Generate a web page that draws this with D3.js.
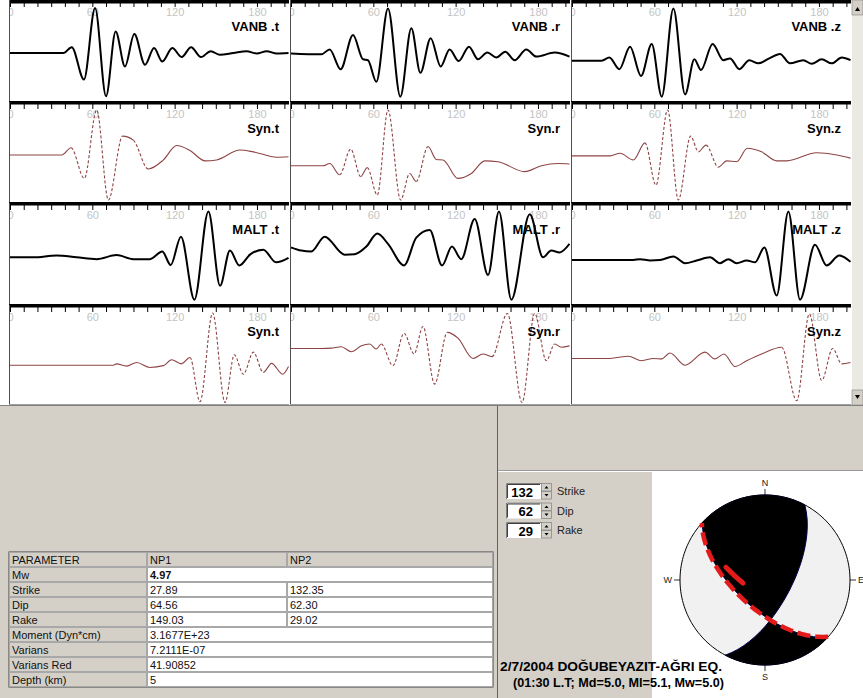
<!DOCTYPE html>
<html>
<head>
<meta charset="utf-8">
<title>Moment tensor inversion - 2/7/2004 Doğubeyazıt</title>
<style>
  body { margin: 0; background: #d4d0c8; }
  svg { display: block; font-family: "Liberation Sans", Arial, sans-serif; }
  .tick line { stroke: #000; }
  .lbl text { fill: #c4c4c4; font-size: 11px; }
  .cell { font-size: 11px; fill: #111; }
</style>
</head>
<body>
<svg id="chart" width="863" height="698"></svg>
<script src="https://d3js.org/d3.v7.min.js"></script>
<script>
// ---------- data (time in s, amplitude normalised to panel) ----------
const stations = ['VANB', 'MALT'];
const components = ['t', 'r', 'z'];
const timeLabels = [0, 60, 120, 180];

const vanbT = [[0,0],[38.9,0],[45,0.13],[53.9,-0.59],[62,1.0],[70,-0.96],[77,0.48],[83.8,-0.30],[90.6,0.42],[98.4,-0.26],[105,0.11],[111,-0.19],[118.3,0.11],[125.1,-0.09],[132,0.13],[139.2,-0.09],[146.3,0.04],[153,-0.04],[162.8,0],[172.5,0.04],[179.8,-0.01],[187.1,0.04],[194.4,-0.01],[203,0]];
const vanbR = [[0,-0.01],[22.1,-0.03],[28.2,0.08],[36.2,-0.36],[45.2,0.40],[52.5,-0.14],[56.1,-0.16],[62.2,-0.64],[70.7,0.99],[79.7,-0.97],[87.7,0.55],[94.3,-0.44],[101.8,0.33],[109.1,-0.30],[115.6,0.08],[122.2,-0.18],[129.7,0.14],[136.3,-0.14],[143.1,0.01],[149.7,-0.10],[156.2,0.03],[163,-0.16],[171.5,0.08],[178.8,-0.08],[192.2,0.01],[203,-0.08]];
const vanbZ = [[0,-0.17],[21.6,-0.17],[27.2,-0.10],[34.5,-0.36],[42.3,0.14],[50.3,-0.51],[58.1,0.20],[65.4,-0.97],[73.9,0.99],[82.4,-0.92],[89.2,-0.14],[94,-0.38],[102.5,0.20],[110.3,-0.16],[115.2,-0.12],[122,-0.36],[129.2,-0.16],[135.8,-0.23],[143.8,-0.12],[151.6,-0.02],[158.9,-0.23],[168.6,-0.16],[174.7,-0.24],[182,-0.14],[189.3,-0.23],[196.6,-0.10],[203,-0.16]];

const synVanbT = [[0,0],[37.7,0],[44.5,0.16],[54.2,-0.52],[63.2,1.0],[71.7,-1.0],[82.1,0.42],[89.9,0.33],[100.8,-0.31],[111.8,-0.11],[121.5,0.21],[131.2,0.10],[142.1,-0.13],[150.6,-0.11],[167.6,0.11],[177.4,0.07],[194.4,-0.05],[203,-0.04]];
const synVanbR = [[0,-0.24],[23.3,-0.24],[28.2,-0.19],[35.5,-0.44],[43.5,0.13],[50.8,-0.48],[55.6,-0.28],[62.9,-0.89],[70.7,1.0],[79.9,-1.0],[86.5,-0.41],[91.3,-0.59],[99.9,0.19],[105.9,-0.10],[110.8,-0.11],[121.7,-0.52],[131.4,-0.41],[141.2,-0.13],[150.9,-0.15],[170.3,-0.37],[182.5,-0.24],[194.6,-0.19],[203,-0.20]];
const synVanbZ = [[0,-0.02],[27.7,-0.02],[35,0.04],[44.7,-0.11],[53.2,0.27],[61.2,-0.67],[69.7,1.0],[77.5,-1.0],[86.5,0.42],[92.1,0.07],[97.7,0.22],[106.7,-0.27],[112.7,-0.13],[120,-0.15],[127.8,0.15],[138.2,0.07],[149.2,-0.13],[156.5,-0.13],[178.3,0.05],[192.9,0],[203,-0.07]];

const maltT = [[0,-0.03],[17,-0.03],[34,0.01],[48.6,-0.03],[63.2,-0.07],[77.7,0.02],[89.9,-0.07],[102,-0.07],[111,0.10],[117.1,-0.20],[124.6,0.43],[134.4,-0.97],[144.6,0.99],[153.1,-0.66],[160.3,0.12],[167.2,-0.21],[174.9,0.03],[184.6,0.14],[193.9,-0.14],[203,-0.04]];
const maltR = [[0,0.19],[7.5,0.12],[14.8,0.10],[24.5,0.43],[39.1,0.03],[46.4,0.04],[54.9,0.21],[62.9,0.50],[70.7,0.27],[82.4,-0.21],[91.3,0.41],[101.1,0.58],[110.1,-0.21],[117.3,0.21],[124.1,-0.07],[133.9,0.82],[143.6,-0.42],[151.6,0.99],[160.6,-0.97],[174,0.93],[183.7,-0.03],[189.7,0.12],[195.8,0.08],[203,0.27]];
const maltZ = [[0,-0.09],[44.7,-0.09],[49.6,-0.07],[56.9,-0.10],[64.1,-0.09],[73.9,-0.01],[82.4,-0.16],[90.9,-0.10],[100.6,-0.03],[107.9,-0.16],[113.9,-0.07],[120,-0.16],[127.3,-0.10],[133.4,-0.14],[140.2,0.19],[149.2,-0.88],[157.7,0.99],[166.2,-0.97],[177.1,0.25],[185.6,-0.21],[194.8,0.01],[203,-0.13]];

const synMaltT = [[0,-0.16],[75.3,-0.16],[77.7,-0.13],[85,-0.18],[92.3,-0.10],[102,-0.21],[111.8,-0.17],[117.8,-0.04],[124.9,-0.13],[131.2,0.01],[138.5,-0.97],[147.7,1.0],[156.7,-0.99],[163.5,0.07],[170.1,-0.36],[177.4,0.13],[184.6,-0.32],[190.7,-0.12],[198.7,-0.36],[203,-0.19]];
const synMaltR = [[0,0.21],[22.1,0.21],[29.4,0.22],[36.7,0.25],[44,0.14],[51.3,0.27],[57.3,0.31],[62.2,0.20],[65.8,0.31],[74.3,-0.17],[82.4,0.55],[89.7,0.09],[96.2,0.70],[104.7,-0.58],[113.9,0.57],[121.7,0.44],[132.7,-0.01],[139.9,0.09],[146.5,0.03],[157.7,0.99],[168.4,-0.99],[177.6,0.99],[186.1,-0.06],[192.2,0.31],[197,0.24],[203,0.27]];
const synMaltZ = [[0,-0.01],[27.7,-0.01],[41.1,0.04],[50.8,-0.06],[59.3,-0.01],[65.4,-0.02],[71.4,0.11],[82.4,-0.16],[96.9,0.13],[104.2,-0.02],[110.8,0.09],[118.8,-0.19],[127.3,-0.06],[138.2,0.09],[152.8,0.24],[163.8,-0.95],[173,0.98],[182,-0.50],[190,0.21],[196.6,-0.13],[203,-0.10]];

// rows of the trace grid: observed / synthetic pairs per station
const traceRows = [
  [vanbT, vanbR, vanbZ],
  [synVanbT, synVanbR, synVanbZ],
  [maltT, maltR, maltZ],
  [synMaltT, synMaltR, synMaltZ]
];

// result table
const tableHeader = ['PARAMETER', 'NP1', 'NP2'];
const paramNames = ['Mw', 'Strike', 'Dip', 'Rake', 'Moment (Dyn*cm)', 'Varians', 'Varians Red', 'Depth (km)'];
const np1Values = ['4.97', '27.89', '64.56', '149.03', '3.1677E+23', '7.2111E-07', '41.90852', '5'];
const np2Values = [null, '132.35', '62.30', '29.02', null, null, null, null];

// spin boxes (user plane) and focal mechanism
const spinLabels = ['Strike', 'Dip', 'Rake'];
const spinValues = [132, 62, 29];
const nodalPlane1 = [27.89, 64.56, 149.03];
const nodalPlane2 = [132.35, 62.30, 29.02];
const slipArrow = [[288, 50], [262, 68.7]]; // [azimuth, plunge]
const directions = ['N', 'E', 'S', 'W'];

const titleLines = ['2/7/2004 DOĞUBEYAZIT-AĞRI EQ.', '(01:30 L.T; Md=5.0, Ml=5.1, Mw=5.0)'];

// ---------- layout ----------
const svg = d3.select('#chart');
const colX = [9, 290, 571];
const rowY = [0, 102, 203, 305];
const gridBottom = 405;
const panelW = 280;

svg.append('rect').attr('x', 0).attr('y', 0).attr('width', 852).attr('height', gridBottom).attr('fill', '#fff');

const defs = svg.append('defs');

function drawTrace(g, data, x, y, synthetic) {
  const line = d3.line().x(d => x(d[0])).y(d => y(d[1])).curve(d3.curveMonotoneX);
  const d = line(data);
  if (!synthetic) {
    g.append('path').attr('d', d).attr('fill', 'none')
      .attr('stroke', '#000').attr('stroke-width', 2).attr('stroke-linejoin', 'round');
    return;
  }
  // one cubic per data interval: steep intervals are drawn dashed
  const cmds = d.match(/[MLC][^MLC]*/g);
  const endPt = c => { const n = c.slice(1).split(','); return n.slice(-2).join(','); };
  let runs = [];
  for (let k = 1; k < cmds.length; k++) {
    const a = data[k - 1], b = data[k];
    const steep = Math.abs(y(b[1]) - y(a[1])) / Math.abs(x(b[0]) - x(a[0])) > 1.6;
    const last = runs[runs.length - 1];
    if (last && last.steep === steep) last.d += cmds[k];
    else runs.push({ steep, d: 'M' + endPt(cmds[k - 1]) + cmds[k] });
  }
  g.selectAll(null).data(runs).join('path')
    .attr('d', r => r.d).attr('fill', 'none')
    .attr('stroke', '#8e4444').attr('stroke-width', 1.1)
    .attr('stroke-dasharray', r => r.steep ? '3,2' : null);
}

traceRows.forEach((row, ri) => {
  const top = rowY[ri];
  const bottom = (ri < rowY.length - 1 ? rowY[ri + 1] : gridBottom) - 1;
  const synthetic = ri % 2 === 1;
  const station = stations[Math.floor(ri / 2)];
  row.forEach((data, ci) => {
    const x0 = colX[ci];
    const x = d3.scaleLinear().domain([0, 203]).range([x0 + 1, x0 + 1 + 203 * 1.372]);
    const y = d3.scaleLinear().domain([-1, 1]).range([top + 98, top + 8]);
    const id = `clip${ri}${ci}`;
    defs.append('clipPath').attr('id', id).append('rect')
      .attr('x', x0 + 1).attr('y', top).attr('width', panelW - 1).attr('height', bottom - top);
    const g = svg.append('g');
    g.append('rect').attr('x', x0).attr('y', top).attr('width', panelW).attr('height', bottom - top)
      .attr('fill', '#fff');
    const inner = g.append('g').attr('clip-path', `url(#${id})`);
    // time labels
    inner.append('g').attr('class', 'lbl').attr('transform', `translate(0,${top + 3})`)
      .call(d3.axisBottom(x).tickValues(timeLabels).tickSize(0).tickPadding(5).tickFormat(d3.format('d')))
      .call(a => a.select('.domain').remove())
      .call(a => a.selectAll('text').attr('font-family', null).attr('font-size', null).attr('fill', null));
    // top tick marks
    inner.append('g').attr('transform', `translate(0,${top + 2})`)
      .call(d3.axisBottom(x).tickValues(d3.range(0, 201, 10)).tickSize(5).tickFormat(''))
      .call(a => a.select('.domain').remove());
    drawTrace(inner, data, x, y, synthetic);
    g.append('text')
      .attr('x', x0 + 270).attr('y', top + 31).attr('text-anchor', 'end')
      .attr('font-size', 13).attr('font-weight', 'bold').attr('fill', '#000')
      .text(synthetic ? `Syn.${components[ci]}` : `${station} .${components[ci]}`);
    // frame
    g.append('rect').attr('x', x0).attr('y', Math.max(0, top - 1)).attr('width', panelW).attr('height', 3.5).attr('fill', '#000');
    g.append('line').attr('x1', x0 + 0.5).attr('x2', x0 + 0.5).attr('y1', top).attr('y2', bottom)
      .attr('stroke', '#505050');
    g.append('line').attr('x1', x0).attr('x2', x0 + panelW).attr('y1', bottom + 0.5).attr('y2', bottom + 0.5)
      .attr('stroke', '#a0a0a0');
  });
});

// scrollbar
const sb = svg.append('g');
sb.append('rect').attr('x', 852).attr('y', 0).attr('width', 11).attr('height', gridBottom).attr('fill', '#ebe9e4');
[[0, 'M855,11L860,11L857.5,7Z'], [gridBottom - 15, 'M855,395L860,395L857.5,399Z']].forEach(([by, arrow]) => {
  sb.append('rect').attr('x', 852).attr('y', by).attr('width', 11).attr('height', 15).attr('fill', '#d4d0c8')
    .attr('stroke', '#808080').attr('stroke-width', 0.6);
  sb.append('path').attr('d', arrow).attr('fill', '#000');
});
svg.append('line').attr('x1', 0).attr('x2', 863).attr('y1', gridBottom + 0.5).attr('y2', gridBottom + 0.5).attr('stroke', '#808080');

// ---------- parameter table ----------
const tx = [9, 147, 287, 493];
const ty0 = 552, rowH = 15;
const tbl = svg.append('g');
tbl.append('rect').attr('x', tx[0]).attr('y', ty0).attr('width', tx[3] - tx[0]).attr('height', rowH * 9)
  .attr('fill', '#fff').attr('stroke', '#404040').attr('stroke-width', 1);

function cell(x0, x1, yy, fill, text, bold) {
  tbl.append('rect').attr('x', x0 + 0.5).attr('y', yy + 0.5).attr('width', x1 - x0 - 1).attr('height', rowH - 1)
    .attr('fill', fill).attr('stroke', '#a8a8a8').attr('stroke-width', 1);
  if (text) {
    tbl.append('text').attr('class', 'cell').attr('x', x0 + 3).attr('y', yy + 11.5)
      .attr('font-weight', bold ? 'bold' : null).text(text);
  }
}
tableHeader.forEach((h, i) => cell(tx[i], tx[i + 1], ty0, '#d4d0c8', h));
paramNames.forEach((p, i) => {
  const yy = ty0 + rowH * (i + 1);
  cell(tx[0], tx[1], yy, '#d4d0c8', p);
  if (np2Values[i] === null) {
    cell(tx[1], tx[3], yy, '#fff', np1Values[i], i === 0);
  } else {
    cell(tx[1], tx[2], yy, '#fff', np1Values[i]);
    cell(tx[2], tx[3], yy, '#fff', np2Values[i]);
  }
});

// ---------- right-hand panels ----------
const rp = svg.append('g');
rp.append('line').attr('x1', 497.5).attr('x2', 497.5).attr('y1', 406).attr('y2', 698).attr('stroke', '#606060');
rp.append('line').attr('x1', 498).attr('x2', 863).attr('y1', 470.5).attr('y2', 470.5).attr('stroke', '#9a9a9a');
rp.append('line').attr('x1', 498).attr('x2', 863).attr('y1', 471.5).attr('y2', 471.5).attr('stroke', '#fff');
rp.append('rect').attr('x', 652).attr('y', 472).attr('width', 211).attr('height', 226).attr('fill', '#fff');

spinValues.forEach((v, i) => {
  const by = 483 + i * 19.5;
  const g = rp.append('g');
  g.append('rect').attr('x', 506).attr('y', by).attr('width', 35).attr('height', 16).attr('fill', '#fff');
  g.append('path').attr('d', `M506.5,${by + 16}V${by + 0.5}H541`).attr('fill', 'none').attr('stroke', '#808080');
  g.append('path').attr('d', `M507.5,${by + 15}V${by + 1.5}H540`).attr('fill', 'none').attr('stroke', '#404040');
  g.append('text').attr('x', 533).attr('y', by + 13.5).attr('text-anchor', 'end')
    .attr('font-size', 13).attr('font-weight', 'bold').text(v);
  [0, 8].forEach((o, k) => {
    g.append('rect').attr('x', 541.5).attr('y', by + o + 0.5).attr('width', 10).attr('height', 7.5)
      .attr('fill', '#d4d0c8').attr('stroke', '#808080').attr('stroke-width', 0.7);
    const cyA = by + o + 4;
    g.append('path').attr('d', k === 0
      ? `M544.5,${cyA + 1.5}L548.5,${cyA + 1.5}L546.5,${cyA - 1}Z`
      : `M544.5,${cyA - 1}L548.5,${cyA - 1}L546.5,${cyA + 1.5}Z`).attr('fill', '#000');
  });
  g.append('text').attr('x', 557).attr('y', by + 12).attr('font-size', 11).attr('fill', '#222').text(spinLabels[i]);
});

// ---------- focal mechanism (lower hemisphere, equal area) ----------
const rad = Math.PI / 180;
const cx = 765, cy = 580, R = 85;
function planeVectors([strike, dip, rake]) {
  const f = strike * rad, dl = dip * rad, l = rake * rad;
  const n = [-Math.sin(dl) * Math.sin(f), Math.sin(dl) * Math.cos(f), -Math.cos(dl)];
  const s = [Math.cos(l) * Math.cos(f) + Math.cos(dl) * Math.sin(l) * Math.sin(f),
             Math.cos(l) * Math.sin(f) - Math.cos(dl) * Math.sin(l) * Math.cos(f),
             -Math.sin(l) * Math.sin(dl)];
  return { n, s };
}
const cross = (a, b) => [a[1] * b[2] - a[2] * b[1], a[2] * b[0] - a[0] * b[2], a[0] * b[1] - a[1] * b[0]];
const neg = v => v.map(c => -c);
// north-east-down vector -> geo coordinate (pole = straight down)
const toGeo = v => [180 - Math.atan2(v[1], v[0]) / rad, Math.asin(v[2] / Math.hypot(...v)) / rad];
const azPl = ([az, pl]) => [180 - az, pl];

const proj = d3.geoAzimuthalEqualArea().rotate([0, -90]).clipAngle(90)
  .scale(R / Math.SQRT2).translate([cx, cy]).precision(0.1);
const geoPath = d3.geoPath(proj);

const { n, s } = planeVectors(nodalPlane1);
const bAxis = cross(n, s);
function lune(p, q) {
  const poly = { type: 'Polygon', coordinates: [[bAxis, p, neg(bAxis), q, bAxis].map(toGeo)] };
  if (d3.geoArea(poly) > 2 * Math.PI) poly.coordinates[0].reverse();
  return poly;
}
const compressional = [lune(s, n), lune(neg(s), neg(n))];

const fb = svg.append('g');
fb.append('path').datum({ type: 'Sphere' }).attr('d', geoPath).attr('fill', '#f1f1f1');
fb.selectAll('path.q').data(compressional).join('path').attr('class', 'q')
  .attr('d', geoPath).attr('fill', '#000').attr('stroke', '#00004a').attr('stroke-width', 1);
fb.append('path').datum({ type: 'Sphere' }).attr('d', geoPath).attr('fill', 'none').attr('stroke', '#000').attr('stroke-width', 1);

// user plane from the spin boxes
const planeTrace = ([strike, dip]) => ({
  type: 'LineString',
  coordinates: [[strike, 0.01], [strike + 90, dip], [strike + 180, 0.01]].map(azPl)
});
fb.append('path').datum(planeTrace(spinValues)).attr('d', geoPath)
  .attr('fill', 'none').attr('stroke', '#e31b1b').attr('stroke-width', 4.5).attr('stroke-dasharray', '13,5');
fb.append('path').datum({ type: 'LineString', coordinates: slipArrow.map(azPl) }).attr('d', geoPath)
  .attr('fill', 'none').attr('stroke', '#e31b1b').attr('stroke-width', 5).attr('stroke-linecap', 'round');

// compass labels
const compass = [[0, -1], [1, 0], [0, 1], [-1, 0]];
directions.forEach((lab, i) => {
  const [dx, dy] = compass[i];
  fb.append('line').attr('x1', cx + dx * R).attr('y1', cy + dy * R)
    .attr('x2', cx + dx * (R + 6)).attr('y2', cy + dy * (R + 6)).attr('stroke', '#000').attr('stroke-width', 0.8);
  fb.append('text').attr('x', cx + dx * (R + 8)).attr('y', cy + dy * (R + 12) + 3)
    .attr('text-anchor', dx > 0 ? 'start' : dx < 0 ? 'end' : 'middle')
    .attr('font-size', 9).attr('fill', '#222').text(lab);
});

// title
svg.append('text').attr('x', 500).attr('y', 671).attr('font-size', 12.5).attr('font-weight', 'bold')
  .attr('textLength', 222).attr('lengthAdjust', 'spacingAndGlyphs').text(titleLines[0]);
svg.append('text').attr('x', 513).attr('y', 687).attr('font-size', 12.5).attr('font-weight', 'bold')
  .attr('textLength', 211).attr('lengthAdjust', 'spacingAndGlyphs').text(titleLines[1]);
</script>
</body>
</html>
